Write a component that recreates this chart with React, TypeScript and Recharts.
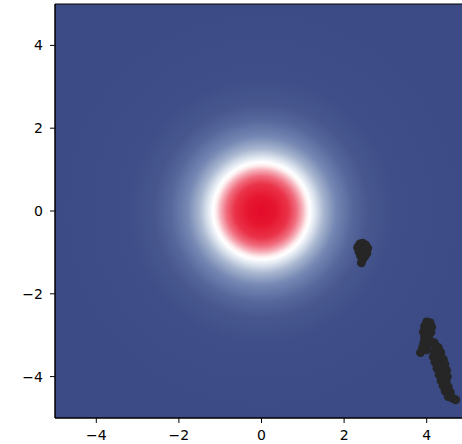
import { ReferenceArea, Scatter, ScatterChart, XAxis, YAxis, ZAxis } from 'recharts';

const ticks = [-4, -2, 0, 2, 4];
const domain: [number, number] = [-5, 5];

// cluster near (2.4, -1)
const clusterAX = [2.38, 2.45, 2.52, 2.33, 2.42, 2.5, 2.57, 2.36, 2.46, 2.55, 2.4, 2.5, 2.44, 2.42, 2.48];
const clusterAY = [-0.8, -0.78, -0.82, -0.88, -0.9, -0.92, -0.9, -0.98, -1.0, -1.02, -1.08, -1.1, -1.18, -1.25, -1.05];

// long cluster at the lower right
const clusterBX = [
  4.0, 4.08, 3.95, 4.05, 4.12, 3.92, 4.02, 4.1, 3.95, 4.05, 3.93, 4.02, 3.9, 4.0, 3.85, 4.18,
  4.2, 4.28, 4.2, 4.34, 4.16, 4.28, 4.4, 4.2, 4.32, 4.44, 4.25, 4.36, 4.48, 4.3, 4.42, 4.5,
  4.35, 4.47, 4.4, 4.52, 4.45, 4.57, 4.52, 4.62, 4.7,
];
const clusterBY = [
  -2.68, -2.7, -2.78, -2.82, -2.8, -2.92, -2.95, -2.93, -3.05, -3.08, -3.18, -3.2, -3.3, -3.35, -3.42, -3.18,
  -3.25, -3.3, -3.4, -3.42, -3.52, -3.55, -3.58, -3.65, -3.68, -3.7, -3.8, -3.82, -3.85, -3.95, -3.98, -4.0,
  -4.1, -4.12, -4.22, -4.25, -4.35, -4.38, -4.48, -4.52, -4.56,
];

const points = [
  ...clusterAX.map((x, i) => ({ x, y: clusterAY[i] })),
  ...clusterBX.map((x, i) => ({ x, y: clusterBY[i] })),
];

const fmt = (v: number) => String(v).replace('-', '\u2212');
const tickStyle = { fill: '#000', fontSize: 14, fontFamily: 'DejaVu Sans' };

const App = () => (
  <div style={{ position: 'absolute', left: 0, top: 0, width: 462, height: 444, overflow: 'hidden', background: '#fff' }}>
    <ScatterChart width={481} height={444} margin={{ top: 4, right: 13, bottom: 0, left: 0 }}>
      <defs>
        <radialGradient id="heat" cx="50%" cy="50%" r="50%">
          <stop offset="0" stopColor="#e30b2a" />
          <stop offset="0.07" stopColor="#e6162f" />
          <stop offset="0.13" stopColor="#ea3349" />
          <stop offset="0.17" stopColor="#f06d7e" />
          <stop offset="0.2" stopColor="#f7b4bd" />
          <stop offset="0.22" stopColor="#fdecee" />
          <stop offset="0.235" stopColor="#ffffff" />
          <stop offset="0.26" stopColor="#dfe6f0" />
          <stop offset="0.3" stopColor="#a9b7d0" />
          <stop offset="0.36" stopColor="#7587b3" />
          <stop offset="0.44" stopColor="#56679c" />
          <stop offset="0.52" stopColor="#47578e" />
          <stop offset="0.64" stopColor="#3f4e88" />
          <stop offset="1" stopColor="#3c4b85" />
        </radialGradient>
      </defs>
      <XAxis
        type="number"
        dataKey="x"
        domain={domain}
        ticks={ticks}
        tickFormatter={fmt}
        height={26}
        tickSize={5}
        tickMargin={7}
        stroke="#000"
        tick={tickStyle}
      />
      <YAxis
        type="number"
        dataKey="y"
        domain={domain}
        ticks={ticks}
        tickFormatter={fmt}
        width={55}
        tickSize={5}
        tickMargin={7}
        stroke="#000"
        tick={tickStyle}
      />
      <ZAxis range={[28, 28]} />
      <ReferenceArea x1={-5} x2={5} y1={-5} y2={5} fill="url(#heat)" fillOpacity={1} stroke="#000" strokeWidth={1} />
      <Scatter data={points} fill="#262626" isAnimationActive={false} />
    </ScatterChart>
  </div>
);

export default App;
